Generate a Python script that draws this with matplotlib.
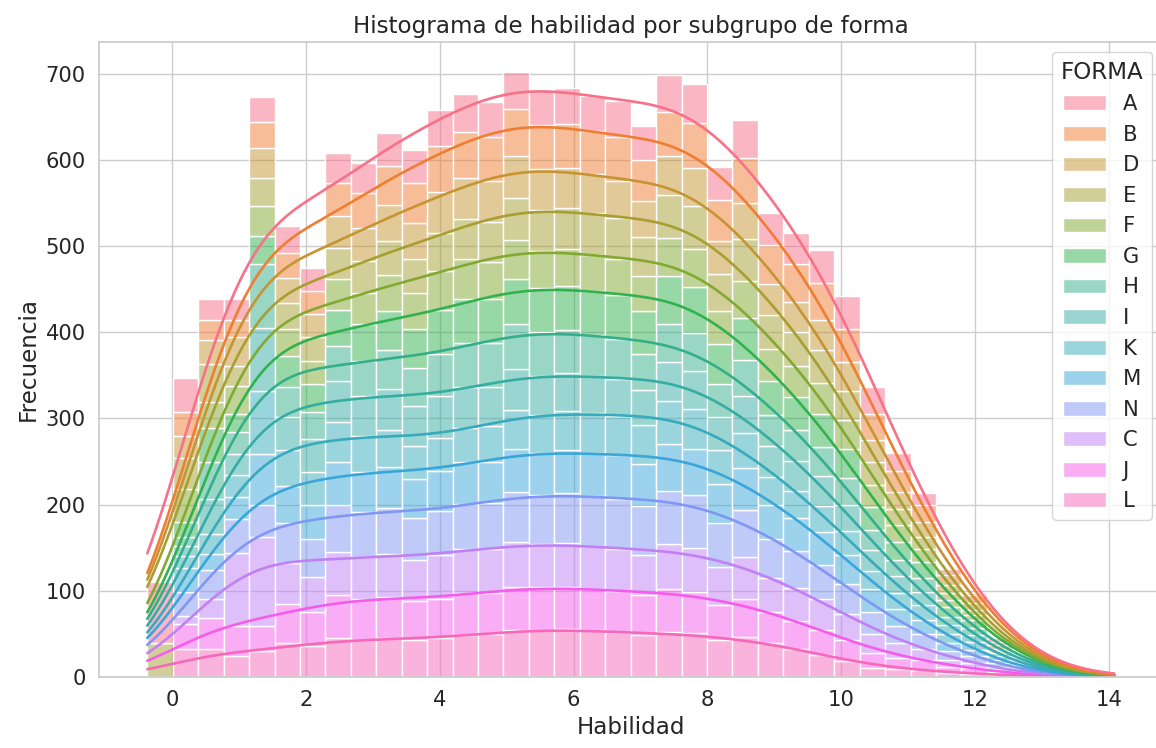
import numpy as np
import pandas as pd
import matplotlib
matplotlib.use("Agg")
import matplotlib.pyplot as plt
import seaborn as sns

# Bin layout of the ability scale
x_min, x_max, n_bins = -0.37, 14.08, 38

# Form subgroups, in legend order (first one ends up on top of the stack)
groups = ["A", "B", "D", "E", "F", "G", "H", "I", "K", "M", "N", "C", "J", "L"]

# Counts per bin for each form
A = [70, 39, 24, 24, 29, 31, 27, 35, 35, 38, 38, 42, 44, 40, 43, 41, 41, 41, 42, 39,
     43, 45, 39, 44, 37, 36, 38, 38, 31, 21, 14, 7, 2, 4, 2, 3, 1, 1]
B = [0, 28, 23, 20, 30, 29, 27, 38, 40, 45, 46, 53, 53, 52, 54, 51, 51, 50, 50, 48,
     52, 52, 47, 52, 45, 44, 43, 39, 30, 24, 19, 11, 9, 4, 2, 1, 1, 0]
D = [0, 26, 28, 33, 35, 29, 27, 37, 38, 42, 42, 48, 48, 47, 49, 47, 47, 45, 44, 42,
     45, 44, 38, 42, 36, 35, 35, 33, 26, 20, 17, 10, 8, 4, 2, 1, 0, 0]
E = [40, 36, 44, 23, 32, 30, 27, 36, 37, 40, 40, 44, 46, 46, 49, 48, 48, 48, 47, 45,
     50, 50, 43, 48, 40, 39, 38, 34, 26, 19, 15, 8, 6, 3, 2, 1, 1, 0]
F = [0, 38, 30, 33, 35, 32, 27, 36, 37, 41, 41, 45, 46, 44, 45, 43, 42, 42, 42, 40,
     44, 44, 39, 43, 36, 36, 36, 33, 26, 19, 15, 8, 6, 2, 1, 0, 0, 0]
G = [0, 18, 39, 21, 33, 35, 32, 42, 42, 46, 46, 51, 52, 51, 53, 51, 51, 51, 51, 50,
     55, 54, 46, 49, 40, 39, 38, 34, 26, 21, 18, 11, 9, 4, 2, 1, 1, 1]
H = [0, 10, 44, 25, 74, 35, 32, 41, 41, 45, 44, 49, 50, 50, 52, 51, 50, 48, 46, 42,
     45, 44, 38, 42, 36, 35, 34, 31, 24, 19, 16, 10, 8, 4, 2, 1, 0, 0]
I = [0, 12, 40, 25, 73, 39, 38, 47, 46, 48, 46, 49, 48, 46, 47, 45, 44, 43, 43, 41,
     45, 44, 39, 43, 36, 35, 35, 31, 24, 19, 16, 10, 8, 4, 2, 1, 0, 0]
K = [0, 13, 23, 25, 73, 41, 38, 46, 42, 42, 38, 38, 40, 41, 45, 44, 46, 46, 46, 45,
     50, 47, 39, 40, 32, 31, 30, 27, 21, 19, 17, 11, 10, 4, 1, 0, 0, 0]
M = [0, 28, 19, 26, 60, 43, 40, 50, 47, 48, 45, 46, 48, 48, 50, 49, 50, 50, 50, 49,
     54, 53, 45, 49, 40, 39, 38, 34, 26, 20, 16, 9, 7, 3, 2, 1, 0, 0]
N = [0, 28, 34, 39, 37, 47, 44, 55, 52, 53, 49, 51, 53, 54, 58, 57, 58, 58, 58, 56,
     62, 61, 51, 55, 45, 43, 40, 35, 26, 20, 17, 10, 8, 3, 1, 0, 0, 0]
C = [0, 9, 21, 85, 103, 47, 40, 50, 49, 50, 48, 51, 51, 50, 52, 50, 50, 50, 49, 47,
     52, 51, 44, 48, 40, 38, 35, 30, 22, 17, 13, 8, 6, 2, 1, 0, 0, 0]
J = [0, 30, 37, 35, 29, 46, 40, 50, 47, 48, 45, 46, 48, 48, 50, 49, 49, 48, 48, 46,
     50, 48, 41, 44, 36, 32, 29, 24, 17, 13, 12, 7, 6, 2, 1, 0, 0, 0]
L = [0, 32, 32, 24, 30, 39, 36, 45, 43, 45, 43, 45, 49, 50, 55, 55, 56, 54, 52, 49,
     52, 51, 43, 47, 39, 33, 26, 19, 11, 9, 8, 5, 4, 2, 1, 0, 0, 0]

counts = dict(A=A, B=B, D=D, E=E, F=F, G=G, H=H, I=I, K=K, M=M, N=N, C=C, J=J, L=L)

edges = np.linspace(x_min, x_max, n_bins + 1)
centers = (edges[:-1] + edges[1:]) / 2

# Long table: one row per (bin, form) with its frequency as weight
df = pd.DataFrame({
    "Habilidad": np.tile(centers, len(groups)),
    "n": np.concatenate([counts[g] for g in groups]),
    "FORMA": np.repeat(groups, n_bins),
})

sns.set_theme(style="whitegrid", font_scale=1.38)
plt.rcParams["font.family"] = ["DejaVu Sans"]

fig = plt.figure(figsize=(11.56, 7.48), dpi=100)
ax = fig.add_axes([0.0856, 0.0949, 0.92, 0.8494])
sns.histplot(data=df, x="Habilidad", weights="n", hue="FORMA", hue_order=groups,
             bins=list(edges), multiple="stack", kde=True,
             kde_kws=dict(bw_adjust=0.47, cut=3, clip=(x_min, x_max)),
             line_kws=dict(linewidth=1.9), ax=ax)
ax.set_title("Histograma de habilidad por subgrupo de forma")
ax.set_xlabel("Habilidad")
ax.set_ylabel("Frecuencia")
fig.savefig("out.png", dpi=100)
